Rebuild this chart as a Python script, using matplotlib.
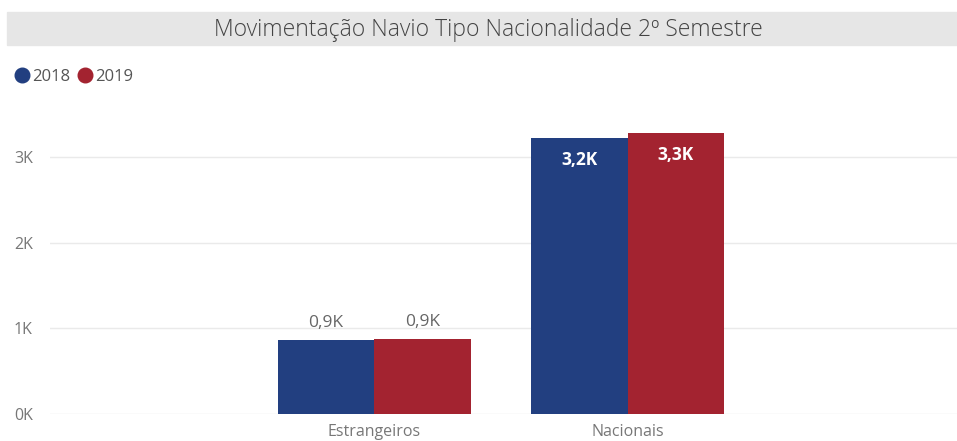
import numpy as np
import matplotlib.pyplot as plt
from matplotlib.patches import Rectangle
from matplotlib.lines import Line2D

plt.rcParams['font.family'] = ['Open Sans', 'DejaVu Sans']

# Data
categorias = ['Estrangeiros', 'Nacionais']
anos = ['2018', '2019']
valores_2018 = [0.86, 3.22]   # em milhares
valores_2019 = [0.87, 3.28]
rotulos_2018 = ['0,9K', '3,2K']
rotulos_2019 = ['0,9K', '3,3K']
yticks = [0, 1, 2, 3]
ytick_labels = ['0K', '1K', '2K', '3K']

cor_2018 = '#223F80'
cor_2019 = '#A32330'

W, H = 957, 441
fig = plt.figure(figsize=(W / 100, H / 100), dpi=100)

# title bar
fig.patches.append(Rectangle((7 / W, 1 - 45 / H), 1 - 7 / W, 33 / H,
                             transform=fig.transFigure, color='#E6E6E6', zorder=0))
fig.text(488 / W, 1 - 30 / H, 'Movimentação Navio Tipo Nacionalidade 2º Semestre',
         ha='center', va='center', fontsize=16.5, color='#444444', fontweight='light')

# legend
handles = [Line2D([], [], marker='o', linestyle='', markersize=10.5, color=c)
           for c in (cor_2018, cor_2019)]
fig.legend(handles, anos, loc='center left', bbox_to_anchor=(8 / W, 1 - 77 / H),
           ncol=2, frameon=False, handlelength=0.7, handletextpad=0.25,
           columnspacing=0.55, fontsize=12, labelcolor='#555555', borderpad=0)

ax = fig.add_axes([50 / W, 1 - 414 / H, 1 - 50 / W, (414 - 100) / H])
x = np.arange(len(categorias))
w = 0.38
b1 = ax.bar(x - w / 2, valores_2018, w, color=cor_2018, zorder=3)
b2 = ax.bar(x + w / 2, valores_2019, w, color=cor_2019, zorder=3)

for bars, rot in ((b1, rotulos_2018), (b2, rotulos_2019)):
    for bar, r in zip(bars, rot):
        h = bar.get_height()
        cx = bar.get_x() + bar.get_width() / 2
        if h > 2:
            ax.text(cx, h - 0.26, r, ha='center', va='center', color='white',
                    fontsize=12.5, fontweight='bold', zorder=4)
        else:
            ax.text(cx, h + 0.2, r, ha='center', va='center', color='#666666',
                    fontsize=12.5, zorder=4)

ax.set_xlim(-1.28, 2.30)
ax.set_ylim(0, 3.664)
ax.set_yticks(yticks)
ax.set_yticklabels(ytick_labels)
ax.set_xticks(x)
ax.set_xticklabels(categorias)
ax.tick_params(axis='both', length=0, colors='#777777', labelsize=11.5)
ax.tick_params(axis='x', pad=7)
for lbl in ax.get_yticklabels():
    lbl.set_horizontalalignment('left')
ax.yaxis.set_tick_params(pad=26)
ax.grid(axis='y', color='#EAEAEA', linewidth=1, zorder=0)
for s in ax.spines.values():
    s.set_visible(False)

fig.savefig('out.png', dpi=100)
